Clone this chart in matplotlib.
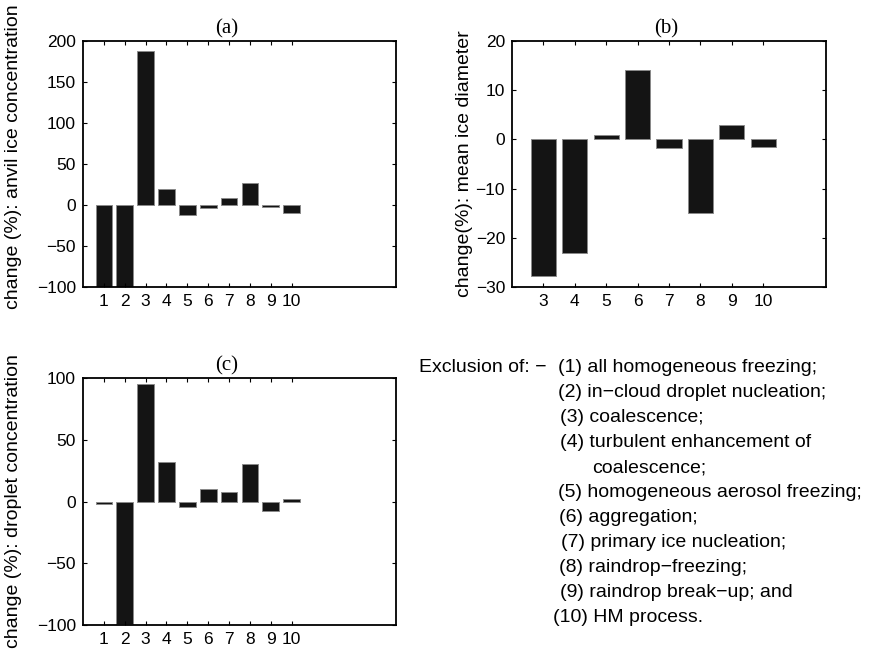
import matplotlib
matplotlib.use("Agg")
import matplotlib.pyplot as plt
import matplotlib.transforms as mtransforms

plt.rcParams['font.family'] = ['Liberation Sans', 'DejaVu Sans']

# ---- data ----
cases_ac = [1, 2, 3, 4, 5, 6, 7, 8, 9, 10]
anvil_ice_conc = [-100, -100, 188, 20, -12, -4, 9, 27, -3, -9.5]
cases_b = [3, 4, 5, 6, 7, 8, 9, 10]
mean_ice_diam = [-27.7, -23.0, 0.8, 14.2, -1.8, -15.0, 3.0, -1.6]
droplet_conc = [-2.4, -99, 95, 32, -4.3, 10, 7.3, 30, -8, 2]

ylabels = ["change (%): anvil ice concentration",
           "change(%): mean ice diameter",
           "change (%): droplet concentration"]
titles = ["(a)", "(b)", "(c)"]
yticks_a = [-100, -50, 0, 50, 100, 150, 200]
yticks_b = [-30, -20, -10, 0, 10, 20]
yticks_c = [-100, -50, 0, 50, 100]

legend_head = "Exclusion of: \u2212"
legend_items = ["(1) all homogeneous freezing;",
                "(2) in\u2212cloud droplet nucleation;",
                "(3) coalescence;",
                "(4) turbulent enhancement of",
                "coalescence;",
                "(5) homogeneous aerosol freezing;",
                "(6) aggregation;",
                "(7) primary ice nucleation;",
                "(8) raindrop\u2212freezing;",
                "(9) raindrop break\u2212up; and",
                "(10) HM process."]

W, H = 870, 652
fig = plt.figure(figsize=(W / 100, H / 100), dpi=100)


def px_axes(l, t, r, b):
    return fig.add_axes([l / W, 1 - b / H, (r - l) / W, (b - t) / H])


ax_a = px_axes(83, 41, 396, 287)
ax_b = px_axes(512, 41, 826, 287)
ax_c = px_axes(83, 378, 396, 625)

FS = 12.5
LFS = 14
bar_kw = dict(width=0.8, color='#141414', edgecolor='#8a8a8a', linewidth=0.7)


def style(ax, xlim, ylim, xticks, yticks, ylabel, title, labx, laby):
    ax.set_xlim(*xlim)
    ax.set_ylim(*ylim)
    ax.set_xticks(xticks)
    ax.set_yticks(yticks)
    ax.set_yticklabels([str(v).replace('-', '\u2212') for v in yticks])
    ax.tick_params(direction='in', length=3, width=0.8, top=True, right=True,
                   labelsize=FS, pad=5)
    for s in ax.spines.values():
        s.set_linewidth(1.3)
    ax.set_ylabel(ylabel, fontsize=LFS)
    ax.yaxis.set_label_coords(labx, laby)
    tr = mtransforms.blended_transform_factory(ax.transData, ax.transAxes)
    ax.text(6.9, 1.012, title, transform=tr, ha='center', va='bottom',
            fontsize=15, family=['Liberation Serif', 'DejaVu Serif'])


ax_a.bar(cases_ac, anvil_ice_conc, **bar_kw)
style(ax_a, (0, 15), (-100, 200), cases_ac, yticks_a, ylabels[0], titles[0], -0.195, 0.53)

ax_b.bar(cases_b, mean_ice_diam, **bar_kw)
style(ax_b, (2, 12), (-30, 20), cases_b, yticks_b, ylabels[1], titles[1], -0.125, 0.5)

ax_c.bar(cases_ac, droplet_conc, **bar_kw)
style(ax_c, (0, 15), (-100, 100), cases_ac, yticks_c, ylabels[2], titles[2], -0.195, 0.5)

# legend text block
TFS = 14
y0 = 368
dy = 24.9
fig.text(547 / W, 1 - y0 / H, legend_head, ha='right', va='center', fontsize=TFS)
xs = [558, 558, 560, 560, 592, 558, 559, 561, 559, 560, 553]
for i, (txt, x) in enumerate(zip(legend_items, xs)):
    fig.text(x / W, 1 - (y0 + i * dy) / H, txt, ha='left', va='center', fontsize=TFS)

fig.savefig("out.png", dpi=100)
